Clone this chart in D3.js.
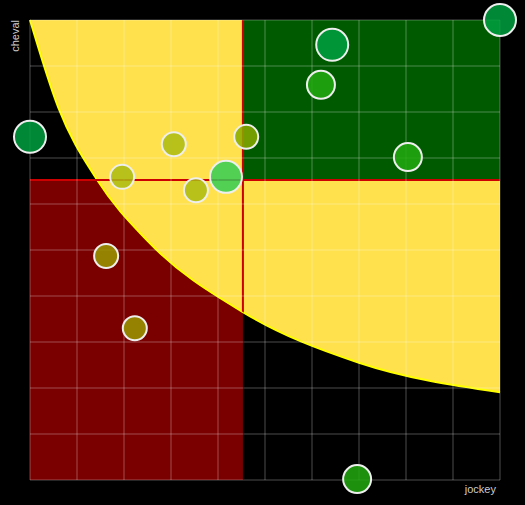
<!DOCTYPE html>
<html><head><meta charset="utf-8">
<script src="https://cdn.jsdelivr.net/npm/d3@7"></script>
<style>body{margin:0;background:#000}</style>
</head><body>
<svg id="chart" width="525" height="505"></svg>
<script>
const jockey = [10, 6.43, 6.19, 0, 3.06, 4.6, 8.04, 1.96, 3.53, 4.17, 1.62, 2.23, 6.96]
const cheval = [10, 9.46, 8.59, 7.46, 7.3, 7.46, 7.02, 6.59, 6.3, 6.59, 4.87, 3.3, 0.02]
const sizes = [16, 16, 14, 16, 12, 12, 14, 12, 12, 16, 12, 12, 14]
const colors = ['#00a040', '#00a040', '#22aa11', '#00a040', '#aabb11', '#88aa00', '#22aa11', '#aabb11', '#aabb11', '#33cc55', '#999900', '#999900', '#22aa11']
const splitX = 4.53, splitY = 6.52
// boundary of the yellow zone
const curveX = [0, 0.6, 1.43, 2.5, 4.53, 7, 10]
const curveY = [10, 8.1, 6.52, 5.2, 3.65, 2.55, 1.91]

const svg = d3.select('#chart')
const x = d3.scaleLinear().domain([0, 10]).range([30, 500])
const y = d3.scaleLinear().domain([0, 10]).range([480, 20])

svg.append('rect').attr('x', x(0)).attr('y', y(splitY)).attr('width', x(splitX) - x(0)).attr('height', y(0) - y(splitY)).attr('fill', '#7a0000')

const edge = d3.line().x(d => x(d)).y((d, i) => y(curveY[i])).curve(d3.curveMonotoneX)(curveX)
const zone = `${edge} L${x(10)},${y(10)} Z`
svg.append('clipPath').attr('id', 'ell').append('path').attr('d', zone)
svg.append('path').attr('d', zone).attr('fill', '#ffe14d')
svg.append('path').attr('d', edge).attr('fill', 'none').attr('stroke', '#ffff00').attr('stroke-width', 2)

svg.append('rect').attr('x', x(splitX)).attr('y', y(10)).attr('width', x(10) - x(splitX)).attr('height', y(splitY) - y(10)).attr('fill', '#005a00')

svg.append('line').attr('x1', x(0)).attr('x2', x(10)).attr('y1', y(splitY)).attr('y2', y(splitY)).attr('stroke', '#cc0000').attr('stroke-width', 2)
svg.append('line').attr('x1', x(splitX)).attr('x2', x(splitX)).attr('y1', y(10)).attr('y2', y(0)).attr('stroke', '#cc0000').attr('stroke-width', 2).attr('clip-path', 'url(#ell)')

const grid = svg.append('g').attr('stroke', 'rgba(255,255,255,0.3)')
d3.range(0, 11).forEach(t => {
  grid.append('line').attr('x1', x(t)).attr('x2', x(t)).attr('y1', y(0)).attr('y2', y(10))
  grid.append('line').attr('y1', y(t)).attr('y2', y(t)).attr('x1', x(0)).attr('x2', x(10))
})

svg.append('g').selectAll('circle').data(jockey).join('circle')
  .attr('cx', d => x(d)).attr('cy', (d, i) => y(cheval[i])).attr('r', (d, i) => sizes[i])
  .attr('fill', (d, i) => colors[i]).attr('fill-opacity', 0.85)
  .attr('stroke', '#eee').attr('stroke-width', 2)

svg.append('text').attr('transform', 'translate(19,20) rotate(-90)').attr('text-anchor', 'end')
  .attr('fill', '#ccc').style('font', '11px Arial, sans-serif').text('cheval')
svg.append('text').attr('x', 496).attr('y', 493).attr('text-anchor', 'end')
  .attr('fill', '#ccc').style('font', '11px Arial, sans-serif').text('jockey')
</script>
</body></html>
